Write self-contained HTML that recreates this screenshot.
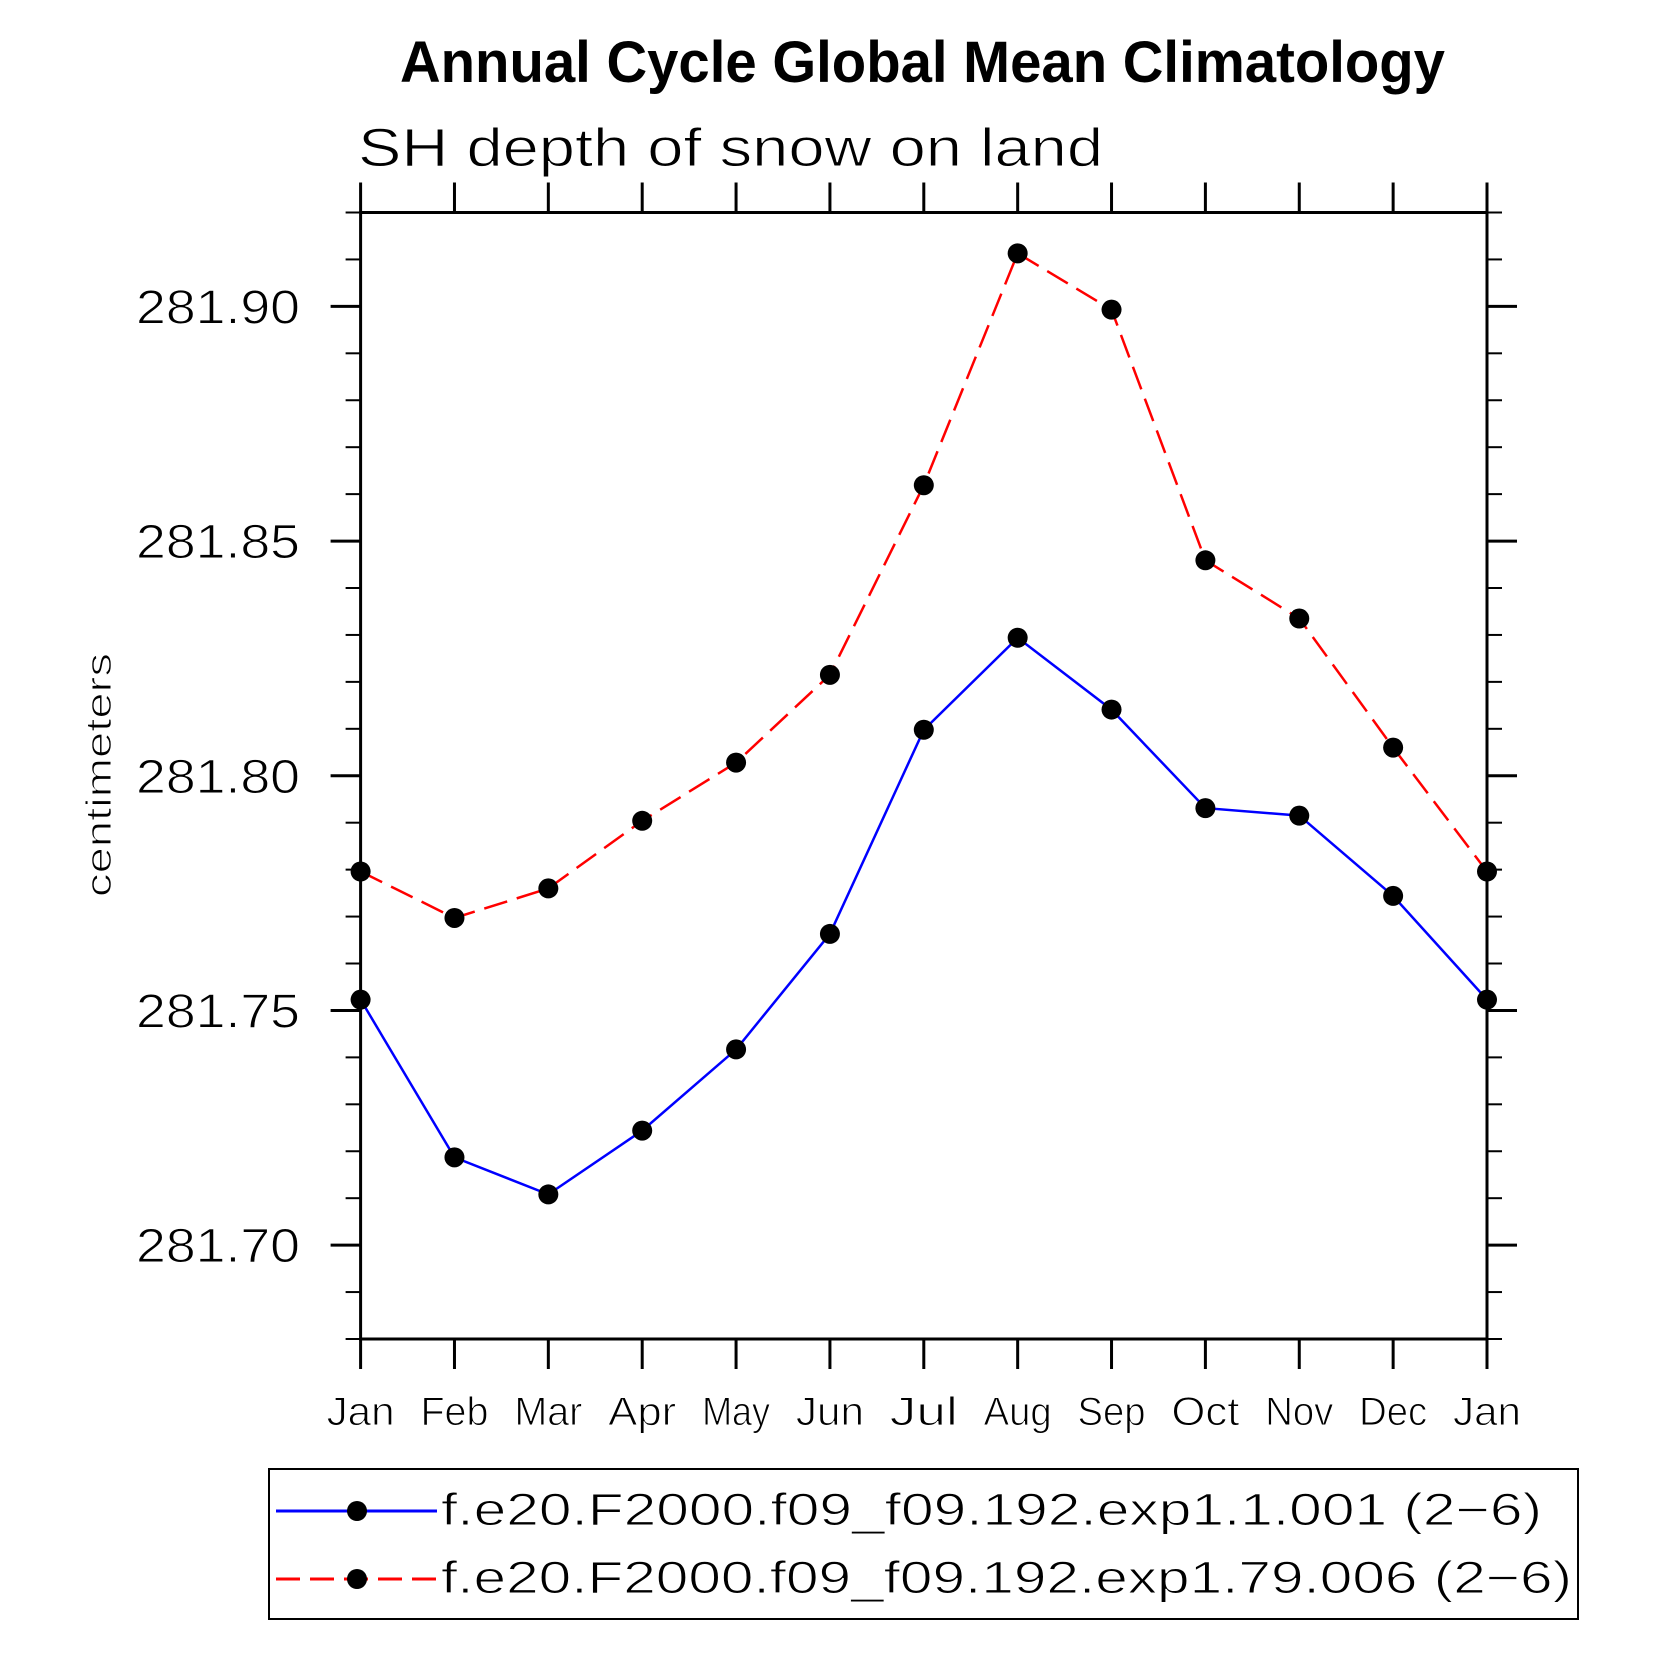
<!DOCTYPE html>
<html><head><meta charset="utf-8"><style>
html,body{margin:0;padding:0;background:#fff}
svg{display:block}
text{font-family:"Liberation Sans",sans-serif;fill:#000}
text.thin{stroke:#fff;stroke-width:1}
</style></head><body>
<svg id="chart" width="1658" height="1658" viewBox="0 0 1658 1658" xmlns="http://www.w3.org/2000/svg">
<text x="400" y="82" font-size="58" font-weight="bold" textLength="1045" lengthAdjust="spacingAndGlyphs">Annual Cycle Global Mean Climatology</text>
<text class="thin" x="358" y="166" font-size="54" textLength="745" lengthAdjust="spacingAndGlyphs">SH depth of snow on land</text>
<text class="thin" transform="translate(111,775) rotate(-90)" text-anchor="middle" font-size="36" textLength="244" lengthAdjust="spacingAndGlyphs">centimeters</text>
<g id="axes"></g>
<g id="series"></g>
<rect x="269" y="1469" width="1309" height="150" fill="none" stroke="#000" stroke-width="2"/>
<g>
<line x1="276" y1="1511" x2="437" y2="1511" stroke="#0000ff" stroke-width="3"/>
<circle cx="357" cy="1511" r="10" fill="#000"/>
<text class="thin" x="441" y="1525" font-size="45" textLength="1101" lengthAdjust="spacingAndGlyphs">f.e20.F2000.f09_f09.192.exp1.1.001 (2−6)</text>
</g>
<g>
<line x1="276" y1="1579" x2="437" y2="1579" stroke="#ff0000" stroke-width="3" stroke-dasharray="24,10"/>
<circle cx="357" cy="1579" r="10" fill="#000"/>
<text class="thin" x="441" y="1593" font-size="45" textLength="1131" lengthAdjust="spacingAndGlyphs">f.e20.F2000.f09_f09.192.exp1.79.006 (2−6)</text>
</g>
</svg>
<script>
const months = ["Jan","Feb","Mar","Apr","May","Jun","Jul","Aug","Sep","Oct","Nov","Dec","Jan"];
const seriesBlue = [281.7523,281.7187,281.7108,281.7244,281.7417,281.7663,281.8098,281.8294,281.8141,281.7931,281.7915,281.7744,281.7523];
const seriesRed = [281.7796,281.7697,281.7760,281.7904,281.8028,281.8215,281.8619,281.9113,281.8993,281.8459,281.8335,281.8060,281.7796];
const yTickLabels = ["281.70","281.75","281.80","281.85","281.90"];
const yMin = 281.68, yMax = 281.92;

const L=360.6, R=1487, T=212.5, B=1339;
const NS="http://www.w3.org/2000/svg";
function xs(i){return L+(R-L)*i/(months.length-1);}
function ys(v){return B-(B-T)*(v-yMin)/(yMax-yMin);}
function mk(tag,attrs,parent){const e=document.createElementNS(NS,tag);for(const k in attrs)e.setAttribute(k,attrs[k]);parent.appendChild(e);return e;}

const axes=document.getElementById('axes');
const frame=mk('rect',{x:L,y:T,width:R-L,height:B-T,fill:'none',stroke:'#000','stroke-width':3},axes);



months.forEach((m,i)=>{
  const x=xs(i);
  mk('line',{x1:x,y1:B,x2:x,y2:B+30,stroke:'#000','stroke-width':3},axes);
  mk('line',{x1:x,y1:T,x2:x,y2:T-30,stroke:'#000','stroke-width':3},axes);
  const t=mk('text',{x:x,y:1425,'text-anchor':'middle','font-size':40,textLength:68,lengthAdjust:'spacingAndGlyphs','class':'thin'},axes);
  t.textContent=m;
  
  
});

for(let k=0;k<=24;k++){
  const v=yMin+k*0.01;
  const y=ys(v);
  const major=(k%5===2);
  const len=major?30:15;
  mk('line',{x1:L-len,y1:y,x2:L,y2:y,stroke:'#000','stroke-width':major?3:2},axes);
  mk('line',{x1:R,y1:y,x2:R+len,y2:y,stroke:'#000','stroke-width':major?3:2},axes);
}
yTickLabels.forEach(lbl=>{
  const y=ys(parseFloat(lbl));
  const t=mk('text',{x:300,y:y+17,'text-anchor':'end','font-size':48,textLength:164,lengthAdjust:'spacingAndGlyphs','class':'thin'},axes);
  t.textContent=lbl;
  
  
});

const sg=document.getElementById('series');
function drawSeries(vals,color,dash,name){
  const g=mk('g',{},sg);
  
  
  const pts=vals.map((v,i)=>xs(i).toFixed(1)+','+ys(v).toFixed(1)).join(' ');
  const a={points:pts,fill:'none',stroke:color,'stroke-width':2.5};
  if(dash)a['stroke-dasharray']=dash;
  const pl=mk('polyline',a,g);
  
  
  vals.forEach((v,i)=>{
    const c=mk('circle',{cx:xs(i),cy:ys(v),r:10,fill:'#000'},g);
    
    
  });
}
drawSeries(seriesRed,'#ff0000','24,10','series-exp1-79-006');
drawSeries(seriesBlue,'#0000ff',null,'series-exp1-1-001');
</script>
</body></html>
